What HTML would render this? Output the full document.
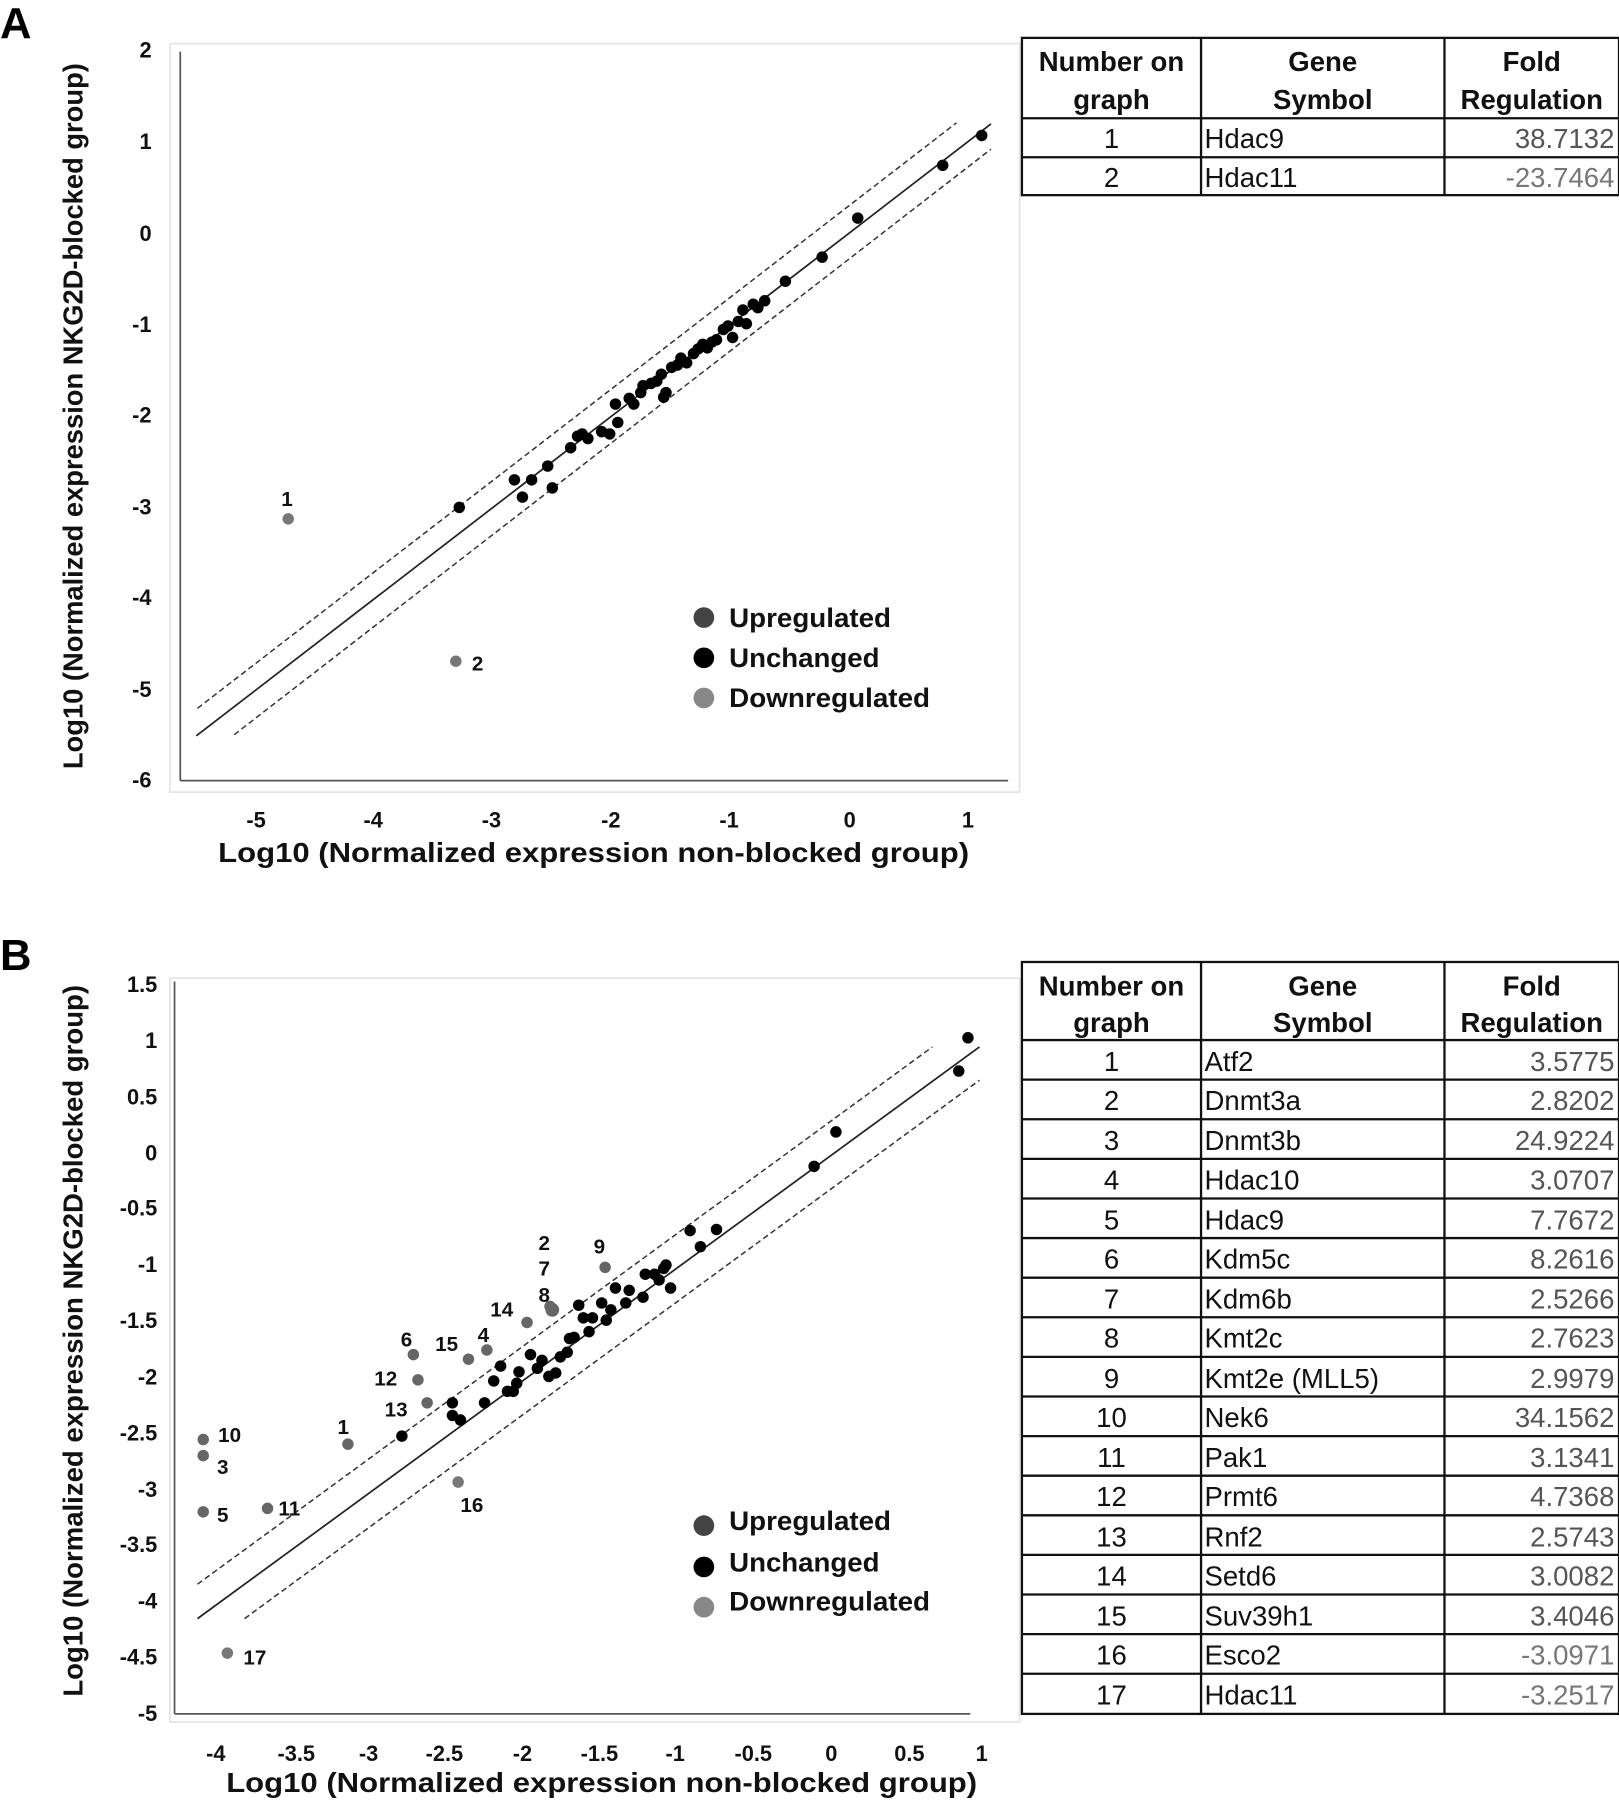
<!DOCTYPE html>
<html><head><meta charset="utf-8"><style>
html,body{margin:0;padding:0;background:#fff}
svg{display:block}
text{font-family:"Liberation Sans",Arial,sans-serif}
.tk{font-size:19px;font-weight:bold;fill:#111}
.lb{font-size:18px;font-weight:bold;fill:#111}
.ax{font-size:24px;font-weight:bold;fill:#111}
.lg{font-size:23px;font-weight:bold;fill:#111}
.th{font-size:24px;font-weight:bold;fill:#111}
.td{font-size:24px;fill:#111}
.tn{font-size:24px;fill:#777}
</style></head><body>
<svg width="1619" height="1800" viewBox="0 0 1410 1568" preserveAspectRatio="none" xmlns="http://www.w3.org/2000/svg">
<!-- ===== Panel A ===== -->
<text x="0" y="33" style="font-size:38px;font-weight:bold">A</text>
<rect x="148" y="38" width="740" height="652" fill="none" stroke="#e4e4e4" stroke-width="1.5"/>
<line x1="157" y1="45" x2="157" y2="680" stroke="#555" stroke-width="1.5"/>
<line x1="157" y1="680" x2="878" y2="680" stroke="#555" stroke-width="1.5"/>
<g class="tk" text-anchor="end">
<text x="132" y="50">2</text><text x="132" y="130">1</text><text x="132" y="210">0</text>
<text x="132" y="289">-1</text><text x="132" y="368">-2</text><text x="132" y="448">-3</text>
<text x="132" y="527">-4</text><text x="132" y="607">-5</text><text x="132" y="686">-6</text>
</g>
<g class="tk" text-anchor="middle">
<text x="223" y="721">-5</text><text x="325" y="721">-4</text><text x="428" y="721">-3</text>
<text x="532" y="721">-2</text><text x="635" y="721">-1</text><text x="740" y="721">0</text><text x="843" y="721">1</text>
</g>
<text class="ax" x="190" y="751" textLength="654" lengthAdjust="spacingAndGlyphs">Log10 (Normalized expression non-blocked group)</text>
<text class="ax" transform="translate(72,670) rotate(-90)" textLength="615" lengthAdjust="spacingAndGlyphs">Log10 (Normalized expression NKG2D-blocked group)</text>
<line x1="171" y1="641" x2="863" y2="108" stroke="#222" stroke-width="1.5"/>
<line x1="172" y1="617" x2="833" y2="107" stroke="#333" stroke-width="1.3" stroke-dasharray="5,3"/>
<line x1="204" y1="640" x2="863" y2="130" stroke="#333" stroke-width="1.3" stroke-dasharray="5,3"/>
<g fill="#000">
<circle cx="400" cy="442" r="5"/><circle cx="448" cy="418" r="5"/><circle cx="463" cy="418" r="5"/><circle cx="455" cy="433" r="5"/>
<circle cx="477" cy="406" r="5"/><circle cx="481" cy="425" r="5"/><circle cx="497" cy="390" r="5"/><circle cx="503" cy="380" r="5"/>
<circle cx="507" cy="378" r="5"/><circle cx="512" cy="382" r="5"/><circle cx="524" cy="376" r="5"/><circle cx="531" cy="378" r="5"/>
<circle cx="536" cy="352" r="5"/><circle cx="538" cy="368" r="5"/><circle cx="548" cy="347" r="5"/><circle cx="552" cy="352" r="5"/>
<circle cx="558" cy="342" r="5"/><circle cx="560" cy="336" r="5"/><circle cx="567" cy="334" r="5"/><circle cx="572" cy="332" r="5"/>
<circle cx="576" cy="326" r="5"/><circle cx="578" cy="346" r="5"/><circle cx="580" cy="342" r="5"/><circle cx="585" cy="320" r="5"/>
<circle cx="590" cy="318" r="5"/><circle cx="593" cy="312" r="5"/><circle cx="598" cy="316" r="5"/><circle cx="604" cy="308" r="5"/>
<circle cx="608" cy="304" r="5"/><circle cx="612" cy="300" r="5"/><circle cx="616" cy="303" r="5"/><circle cx="620" cy="298" r="5"/>
<circle cx="624" cy="296" r="5"/><circle cx="630" cy="287" r="5"/><circle cx="634" cy="284" r="5"/><circle cx="638" cy="294" r="5"/>
<circle cx="643" cy="280" r="5"/><circle cx="647" cy="270" r="5"/><circle cx="650" cy="282" r="5"/><circle cx="656" cy="265" r="5"/>
<circle cx="660" cy="268" r="5"/><circle cx="666" cy="262" r="5"/><circle cx="684" cy="245" r="5"/><circle cx="716" cy="224" r="5"/>
<circle cx="747" cy="190" r="5"/><circle cx="821" cy="144" r="5"/><circle cx="855" cy="118" r="5"/>
</g>
<circle cx="251" cy="452" r="5" fill="#777"/><circle cx="397" cy="576" r="5" fill="#777"/>
<text class="lb" x="250" y="441" text-anchor="middle">1</text>
<text class="lb" x="416" y="584" text-anchor="middle">2</text>
<circle cx="613" cy="538" r="9" fill="#444"/><circle cx="613" cy="573" r="9" fill="#000"/><circle cx="613" cy="608" r="9" fill="#888"/>
<text class="lg" x="635" y="546" textLength="141" lengthAdjust="spacingAndGlyphs">Upregulated</text>
<text class="lg" x="635" y="581" textLength="131" lengthAdjust="spacingAndGlyphs">Unchanged</text>
<text class="lg" x="635" y="616" textLength="175" lengthAdjust="spacingAndGlyphs">Downregulated</text>
<!-- Table A -->
<g stroke="#111" stroke-width="2" fill="none">
<rect x="890" y="33" width="520" height="137"/>
<line x1="1046" y1="33" x2="1046" y2="170"/><line x1="1258" y1="33" x2="1258" y2="170"/>
<line x1="890" y1="103" x2="1410" y2="103"/><line x1="890" y1="137" x2="1410" y2="137"/>
</g>
<g class="th" text-anchor="middle">
<text x="968" y="62">Number on</text><text x="968" y="95">graph</text>
<text x="1152" y="62">Gene</text><text x="1152" y="95">Symbol</text>
<text x="1334" y="62">Fold</text><text x="1334" y="95">Regulation</text>
</g>
<text class="td" x="968" y="129" text-anchor="middle">1</text><text class="td" x="1049" y="129">Hdac9</text><text class="tn" x="1406" y="129" text-anchor="end" style="fill:#555">38.7132</text>
<text class="td" x="968" y="163" text-anchor="middle">2</text><text class="td" x="1049" y="163">Hdac11</text><text class="tn" x="1406" y="163" text-anchor="end">-23.7464</text>

<!-- ===== Panel B ===== -->
<text x="0" y="845" style="font-size:38px;font-weight:bold">B</text>
<rect x="148" y="852" width="740" height="648" fill="none" stroke="#e4e4e4" stroke-width="1.5"/>
<line x1="152" y1="855" x2="152" y2="1493" stroke="#555" stroke-width="1.5"/>
<line x1="152" y1="1493" x2="845" y2="1493" stroke="#555" stroke-width="1.5"/>
<g class="tk" text-anchor="end">
<text x="137" y="864">1.5</text><text x="137" y="913">1</text><text x="137" y="962">0.5</text><text x="137" y="1011">0</text>
<text x="137" y="1059">-0.5</text><text x="137" y="1108">-1</text><text x="137" y="1157">-1.5</text><text x="137" y="1206">-2</text>
<text x="137" y="1255">-2.5</text><text x="137" y="1304">-3</text><text x="137" y="1352">-3.5</text><text x="137" y="1401">-4</text>
<text x="137" y="1450">-4.5</text><text x="137" y="1499">-5</text>
</g>
<g class="tk" text-anchor="middle">
<text x="188" y="1534">-4</text><text x="258" y="1534">-3.5</text><text x="321" y="1534">-3</text><text x="387" y="1534">-2.5</text>
<text x="455" y="1534">-2</text><text x="522" y="1534">-1.5</text><text x="588" y="1534">-1</text><text x="656" y="1534">-0.5</text>
<text x="724" y="1534">0</text><text x="792" y="1534">0.5</text><text x="855" y="1534">1</text>
</g>
<text class="ax" x="197" y="1561" textLength="654" lengthAdjust="spacingAndGlyphs">Log10 (Normalized expression non-blocked group)</text>
<text class="ax" transform="translate(72,1478) rotate(-90)" textLength="620" lengthAdjust="spacingAndGlyphs">Log10 (Normalized expression NKG2D-blocked group)</text>
<line x1="172" y1="1410" x2="853" y2="912" stroke="#222" stroke-width="1.5"/>
<line x1="172" y1="1380" x2="812" y2="912" stroke="#333" stroke-width="1.3" stroke-dasharray="5,3"/>
<line x1="213" y1="1410" x2="853" y2="941" stroke="#333" stroke-width="1.3" stroke-dasharray="5,3"/>
<g fill="#000">
<circle cx="843" cy="904" r="5"/><circle cx="835" cy="933" r="5"/><circle cx="728" cy="986" r="5"/><circle cx="709" cy="1016" r="5"/>
<circle cx="601" cy="1072" r="5"/><circle cx="624" cy="1071" r="5"/><circle cx="610" cy="1086" r="5"/><circle cx="580" cy="1102" r="5"/>
<circle cx="584" cy="1122" r="5"/><circle cx="570" cy="1110" r="5"/><circle cx="578" cy="1105" r="5"/><circle cx="574" cy="1115" r="5"/>
<circle cx="562" cy="1110" r="5"/><circle cx="560" cy="1130" r="5"/><circle cx="548" cy="1124" r="5"/><circle cx="545" cy="1135" r="5"/>
<circle cx="536" cy="1122" r="5"/><circle cx="532" cy="1141" r="5"/><circle cx="528" cy="1150" r="5"/><circle cx="524" cy="1135" r="5"/>
<circle cx="516" cy="1148" r="5"/><circle cx="513" cy="1160" r="5"/><circle cx="508" cy="1148" r="5"/><circle cx="504" cy="1137" r="5"/>
<circle cx="500" cy="1165" r="5"/><circle cx="496" cy="1166" r="5"/><circle cx="494" cy="1178" r="5"/><circle cx="488" cy="1182" r="5"/>
<circle cx="484" cy="1196" r="5"/><circle cx="478" cy="1199" r="5"/><circle cx="472" cy="1185" r="5"/><circle cx="468" cy="1192" r="5"/>
<circle cx="462" cy="1180" r="5"/><circle cx="452" cy="1195" r="5"/><circle cx="450" cy="1205" r="5"/><circle cx="447" cy="1212" r="5"/>
<circle cx="442" cy="1212" r="5"/><circle cx="436" cy="1190" r="5"/><circle cx="430" cy="1203" r="5"/><circle cx="422" cy="1222" r="5"/>
<circle cx="401" cy="1237" r="5"/><circle cx="394" cy="1222" r="5"/><circle cx="394" cy="1233" r="5"/><circle cx="350" cy="1251" r="5"/>
</g>
<g fill="#666">
<circle cx="177" cy="1254" r="5"/><circle cx="177" cy="1268" r="5"/><circle cx="177" cy="1317" r="5"/><circle cx="233" cy="1314" r="5"/>
<circle cx="303" cy="1258" r="5"/><circle cx="360" cy="1180" r="5"/><circle cx="364" cy="1202" r="5"/><circle cx="372" cy="1222" r="5"/>
<circle cx="408" cy="1184" r="5"/><circle cx="424" cy="1176" r="5"/><circle cx="459" cy="1152" r="5"/><circle cx="481" cy="1141" r="6"/>
<circle cx="479" cy="1138" r="5"/><circle cx="527" cy="1104" r="5"/>
</g>
<circle cx="399" cy="1291" r="5" fill="#777"/><circle cx="198" cy="1440" r="5" fill="#777"/>
<g class="lb" text-anchor="middle">
<text x="200" y="1256">10</text><text x="194" y="1284">3</text><text x="194" y="1326">5</text><text x="252" y="1320">11</text>
<text x="299" y="1249">1</text><text x="354" y="1173">6</text><text x="336" y="1207">12</text><text x="345" y="1234">13</text>
<text x="389" y="1177">15</text><text x="421" y="1169">4</text><text x="437" y="1147">14</text><text x="474" y="1089">2</text>
<text x="474" y="1111">7</text><text x="474" y="1134">8</text><text x="522" y="1092">9</text><text x="411" y="1317">16</text><text x="222" y="1450">17</text>
</g>
<circle cx="613" cy="1329" r="9" fill="#444"/><circle cx="613" cy="1365" r="9" fill="#000"/><circle cx="613" cy="1400" r="9" fill="#888"/>
<text class="lg" x="635" y="1333" textLength="141" lengthAdjust="spacingAndGlyphs">Upregulated</text>
<text class="lg" x="635" y="1369" textLength="131" lengthAdjust="spacingAndGlyphs">Unchanged</text>
<text class="lg" x="635" y="1403" textLength="175" lengthAdjust="spacingAndGlyphs">Downregulated</text>
<!-- Table B -->
<g stroke="#111" stroke-width="2" fill="none">
<rect x="890" y="838" width="520" height="655"/>
<line x1="1046" y1="838" x2="1046" y2="1493"/><line x1="1258" y1="838" x2="1258" y2="1493"/>
<line x1="890" y1="906" x2="1410" y2="906"/>
<line x1="890" y1="940.5" x2="1410" y2="940.5"/><line x1="890" y1="975" x2="1410" y2="975"/>
<line x1="890" y1="1009.5" x2="1410" y2="1009.5"/><line x1="890" y1="1044" x2="1410" y2="1044"/>
<line x1="890" y1="1078.5" x2="1410" y2="1078.5"/><line x1="890" y1="1113" x2="1410" y2="1113"/>
<line x1="890" y1="1147.5" x2="1410" y2="1147.5"/><line x1="890" y1="1182" x2="1410" y2="1182"/>
<line x1="890" y1="1216.5" x2="1410" y2="1216.5"/><line x1="890" y1="1251" x2="1410" y2="1251"/>
<line x1="890" y1="1285.5" x2="1410" y2="1285.5"/><line x1="890" y1="1320" x2="1410" y2="1320"/>
<line x1="890" y1="1354.5" x2="1410" y2="1354.5"/><line x1="890" y1="1389" x2="1410" y2="1389"/>
<line x1="890" y1="1423.5" x2="1410" y2="1423.5"/><line x1="890" y1="1458" x2="1410" y2="1458"/>
</g>
<g class="th" text-anchor="middle">
<text x="968" y="867">Number on</text><text x="968" y="899">graph</text>
<text x="1152" y="867">Gene</text><text x="1152" y="899">Symbol</text>
<text x="1334" y="867">Fold</text><text x="1334" y="899">Regulation</text>
</g>
<g class="td" text-anchor="middle">
<text x="968" y="933">1</text><text x="968" y="967">2</text><text x="968" y="1002">3</text><text x="968" y="1036">4</text>
<text x="968" y="1071">5</text><text x="968" y="1105">6</text><text x="968" y="1140">7</text><text x="968" y="1174">8</text>
<text x="968" y="1209">9</text><text x="968" y="1243">10</text><text x="968" y="1278">11</text><text x="968" y="1312">12</text>
<text x="968" y="1347">13</text><text x="968" y="1381">14</text><text x="968" y="1416">15</text><text x="968" y="1450">16</text><text x="968" y="1485">17</text>
</g>
<g class="td">
<text x="1049" y="933">Atf2</text><text x="1049" y="967">Dnmt3a</text><text x="1049" y="1002">Dnmt3b</text><text x="1049" y="1036">Hdac10</text>
<text x="1049" y="1071">Hdac9</text><text x="1049" y="1105">Kdm5c</text><text x="1049" y="1140">Kdm6b</text><text x="1049" y="1174">Kmt2c</text>
<text x="1049" y="1209">Kmt2e (MLL5)</text><text x="1049" y="1243">Nek6</text><text x="1049" y="1278">Pak1</text><text x="1049" y="1312">Prmt6</text>
<text x="1049" y="1347">Rnf2</text><text x="1049" y="1381">Setd6</text><text x="1049" y="1416">Suv39h1</text><text x="1049" y="1450">Esco2</text><text x="1049" y="1485">Hdac11</text>
</g>
<g class="td" text-anchor="end" style="fill:#555">
<text x="1406" y="933">3.5775</text><text x="1406" y="967">2.8202</text><text x="1406" y="1002">24.9224</text><text x="1406" y="1036">3.0707</text>
<text x="1406" y="1071">7.7672</text><text x="1406" y="1105">8.2616</text><text x="1406" y="1140">2.5266</text><text x="1406" y="1174">2.7623</text>
<text x="1406" y="1209">2.9979</text><text x="1406" y="1243">34.1562</text><text x="1406" y="1278">3.1341</text><text x="1406" y="1312">4.7368</text>
<text x="1406" y="1347">2.5743</text><text x="1406" y="1381">3.0082</text><text x="1406" y="1416">3.4046</text>
</g>
<g class="tn" text-anchor="end">
<text x="1406" y="1450">-3.0971</text><text x="1406" y="1485">-3.2517</text>
</g>
</svg>
</body></html>
